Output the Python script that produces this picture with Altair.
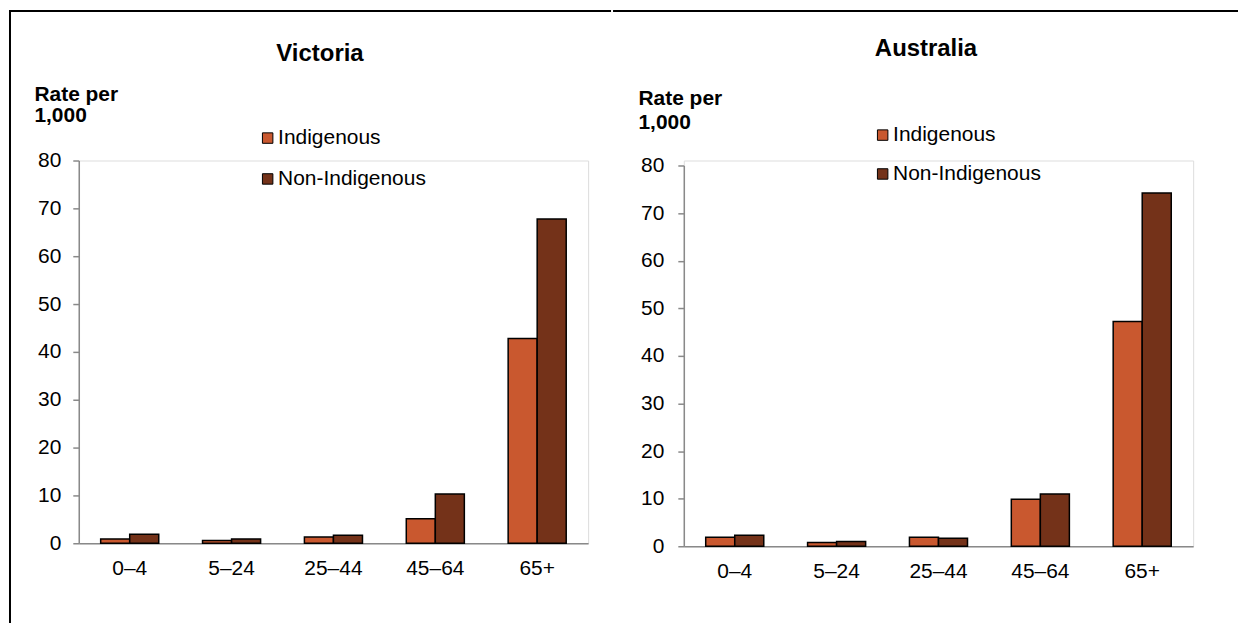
import altair as alt
import pandas as pd

# ---- data ----
age_groups = ["0–4", "5–24", "25–44", "45–64", "65+"]
series = ["Indigenous", "Non-Indigenous"]
vic_indigenous = [0.9, 0.6, 1.3, 5.1, 42.8]
vic_non_indigenous = [1.9, 0.9, 1.7, 10.3, 67.8]
aus_indigenous = [1.9, 0.8, 1.9, 9.9, 47.2]
aus_non_indigenous = [2.3, 1.0, 1.7, 11.0, 74.2]
y_ticks = [0, 10, 20, 30, 40, 50, 60, 70, 80]
axis_title = ["Rate per", "1,000"]
panel_titles = ["Victoria", "Australia"]

colors = ["#C9582F", "#743219"]
GRAY = "#898989"
FONT = "Liberation Sans"
FS = 21


def make_df(ind, non):
    rows = []
    for a, v in zip(age_groups, ind):
        rows.append({"age": a, "series": series[0], "rate": v})
    for a, v in zip(age_groups, non):
        rows.append({"age": a, "series": series[1], "rate": v})
    return pd.DataFrame(rows)


def panel(df, title, h, y_range, title_pos, at_pos, at_lh, ylab_pad, leg_pos, leg_rowpad, rules):
    bars = alt.Chart(df).mark_bar(stroke="black", strokeWidth=1.5).encode(
        x=alt.X(
            "age:N", sort=age_groups,
            scale=alt.Scale(paddingInner=0.43, paddingOuter=0.215),
            axis=alt.Axis(title=None, labelAngle=0, ticks=False, tickSize=0,
                          labelPadding=14, domainColor=GRAY, domainWidth=1.5,
                          labelFontSize=FS, labelColor="black", labelFont=FONT,
                          grid=False),
        ),
        xOffset=alt.XOffset("series:N", sort=series,
                            scale=alt.Scale(paddingInner=0, paddingOuter=0)),
        y=alt.Y(
            "rate:Q",
            scale=alt.Scale(domain=[0, 80], nice=False, range=y_range),
            axis=alt.Axis(values=y_ticks, title=axis_title, titleAngle=0,
                          titleAlign="left", titleBaseline="top",
                          titleX=at_pos[0], titleY=at_pos[1], titleLineHeight=at_lh,
                          titleFontSize=FS, titleFontWeight="bold", titleColor="black",
                          titleFont=FONT,
                          tickSize=6, tickColor=GRAY, tickWidth=1.5,
                          domainColor=GRAY, domainWidth=1.5,
                          labelPadding=ylab_pad, labelFontSize=FS, labelColor="black",
                          labelFont=FONT, grid=False),
        ),
        color=alt.Color(
            "series:N", sort=series,
            scale=alt.Scale(domain=series, range=colors),
            legend=alt.Legend(title=None, orient="none", legendX=leg_pos[0],
                              legendY=leg_pos[1], direction="vertical",
                              symbolType="square", symbolSize=110,
                              symbolStrokeColor="black", symbolStrokeWidth=1,
                              symbolOpacity=1,
                              labelFontSize=FS, labelFont=FONT, labelColor="black",
                              rowPadding=leg_rowpad, labelOffset=0, padding=0),
        ),
    )

    ttl = alt.Chart(pd.DataFrame({"t": [title]})).mark_text(
        font=FONT, fontSize=24, fontWeight="bold", color="black",
        align="center", baseline="middle",
    ).encode(x=alt.value(title_pos[0]), y=alt.value(title_pos[1]), text="t:N")

    layers = [bars, ttl]
    one = pd.DataFrame({"k": [0]})
    for r, cap in rules:
        layers.append(
            alt.Chart(one).mark_rule(color="black", strokeWidth=2, strokeCap=cap).encode(**r)
        )
    return alt.layer(*layers).properties(width=511, height=h)


vic = panel(
    make_df(vic_indigenous, vic_non_indigenous), panel_titles[0], 384, [384, 0],
    title_pos=(242, -107), at_pos=(-45, -77), at_lh=21, ylab_pad=12,
    leg_pos=(179, -33), leg_rowpad=19,
    rules=[
        (dict(x=alt.value(-69), y=alt.value(-150), y2=alt.value(464)), "butt"),
        (dict(x=alt.value(-69), x2=alt.value(533), y=alt.value(-150)), "square"),
    ],
)

aus = panel(
    make_df(aus_indigenous, aus_non_indigenous), panel_titles[1], 387, [387, 5],
    title_pos=(243, -112), at_pos=(-46, -73), at_lh=24, ylab_pad=14,
    leg_pos=(189, -36), leg_rowpad=17,
    rules=[
        (dict(x=alt.value(-70), x2=alt.value(555), y=alt.value(-150)), "square"),
    ],
)

chart = (
    alt.hconcat(vic, aus, spacing=0)
    .resolve_legend(color="independent")
    .resolve_scale(y="independent", x="independent")
    .properties(padding=0, background="white")
    .configure_view(stroke=None)
    .configure(font=FONT)
)

chart.save("out.html", embed_options={"renderer": "svg", "actions": False})
